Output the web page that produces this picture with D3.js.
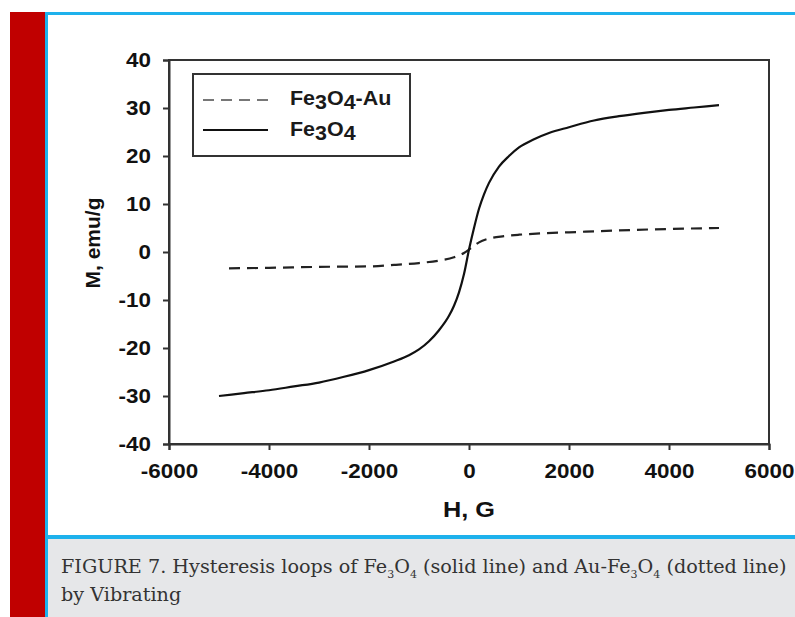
<!DOCTYPE html>
<html>
<head>
<meta charset="utf-8">
<script src="https://cdn.jsdelivr.net/npm/d3@7"></script>
<style>
  body { margin: 0; background: #fff; }
  svg { display: block; }
  .stretch { transform-box: fill-box; transform-origin: 50% 50%; transform: scaleX(1.15); }
  .stretchl { transform-box: fill-box; transform-origin: 0% 50%; transform: scaleX(1.1); }
  .ytick text { transform-box: fill-box; transform-origin: 100% 50%; transform: scaleX(1.15); }
  .xtick text { transform-box: fill-box; transform-origin: 50% 50%; transform: scaleX(1.15); }
</style>
</head>
<body>
<svg width="795" height="617"></svg>
<script>
// Fe3O4 magnetisation (solid)
let fe3o4H = [-5000,-4500,-4000,-3500,-3000,-2500,-2000,-1500,-1200,-1000,-800,-600,-400,-300,-200,-100,0,100,200,300,400,600,800,1000,1300,1600,2000,2500,3000,3500,4000,4500,5000];
let fe3o4M = [-30.0,-29.4,-28.8,-28.0,-27.2,-26.0,-24.6,-22.8,-21.5,-20.3,-18.6,-16.3,-13.3,-11.2,-8.4,-4.6,0.5,5.0,9.0,12.0,14.4,17.8,20.0,21.8,23.5,24.8,26.0,27.4,28.3,29.0,29.6,30.1,30.6];
// Fe3O4-Au magnetisation (dashed)
let auH = [-4800,-4000,-3000,-2000,-1500,-1000,-600,-300,-100,0,100,200,400,700,1000,1500,2000,3000,4000,5000];
let auM = [-3.4,-3.3,-3.1,-3.0,-2.7,-2.3,-1.8,-1.1,-0.2,0.5,1.3,2.0,2.8,3.3,3.6,3.9,4.1,4.5,4.8,5.0];

let xTicks = [-6000,-4000,-2000,0,2000,4000,6000];
let yTicks = [-40,-30,-20,-10,0,10,20,30,40];

let svg = d3.select('svg');

// page decoration
svg.append('rect').attr('x',10).attr('y',12).attr('width',35).attr('height',605).attr('fill','#c00000');
svg.append('rect').attr('x',45).attr('y',12).attr('width',750).attr('height',3).attr('fill','#1eb1ec');
svg.append('rect').attr('x',45).attr('y',12).attr('width',3).attr('height',605).attr('fill','#1eb1ec');
svg.append('rect').attr('x',48).attr('y',535).attr('width',747).attr('height',4).attr('fill','#1eb1ec');
svg.append('rect').attr('x',48).attr('y',539).attr('width',747).attr('height',78).attr('fill','#e6e7e9');

let xScale = d3.scaleLinear().domain([-6000,6000]).range([169,769]);
let yScale = d3.scaleLinear().domain([-40,40]).range([444,60]);

// frame
svg.append('rect')
  .attr('x',xScale(-6000)).attr('y',yScale(40))
  .attr('width',xScale(6000)-xScale(-6000)).attr('height',yScale(-40)-yScale(40))
  .attr('fill','none').attr('stroke','#333').attr('stroke-width',2);

let xAxis = d3.axisBottom(xScale).tickValues(xTicks).tickSize(6).tickPadding(14);
let xg = svg.append('g').attr('class','xtick').attr('transform','translate(0,'+yScale(-40)+')').call(xAxis);
let yAxis = d3.axisLeft(yScale).tickValues(yTicks).tickSize(6).tickPadding(12);
let yg = svg.append('g').attr('class','ytick').attr('transform','translate('+xScale(-6000)+',0)').call(yAxis);

[xg,yg].forEach(g => {
  g.select('.domain').attr('stroke','#333').attr('stroke-width',2);
  g.selectAll('line').attr('stroke','#333').attr('stroke-width',2);
  g.selectAll('text').attr('fill','#111').style('font-family','Liberation Sans, Arial, sans-serif')
    .style('font-size','19.5px').style('font-weight','bold')
    .text(d => String(d));
});

// axis titles
svg.append('text').attr('class','stretch').attr('x',469).attr('y',517).attr('text-anchor','middle')
  .style('font-family','Liberation Sans, Arial, sans-serif').style('font-size','22px').style('font-weight','bold')
  .attr('fill','#111').text('H, G');
svg.append('text').attr('transform','translate(100,243) rotate(-90)').attr('text-anchor','middle')
  .style('font-family','Liberation Sans, Arial, sans-serif').style('font-size','21px').style('font-weight','bold')
  .attr('fill','#111').text('M, emu/g');

// curves
let line = d3.line().x(d => xScale(d[0])).y(d => yScale(d[1])).curve(d3.curveMonotoneX);
svg.append('path').datum(auH.map((h,i) => [h,auM[i]]))
  .attr('d',line).attr('fill','none').attr('stroke','#222').attr('stroke-width',2.2).attr('stroke-dasharray','11,7');
svg.append('path').datum(fe3o4H.map((h,i) => [h,fe3o4M[i]]))
  .attr('d',line).attr('fill','none').attr('stroke','#111').attr('stroke-width',2.2);

// legend
svg.append('rect').attr('x',193).attr('y',74).attr('width',217).attr('height',82)
  .attr('fill','#fff').attr('stroke','#333').attr('stroke-width',2);
svg.append('line').attr('x1',203).attr('x2',268).attr('y1',100).attr('y2',100)
  .attr('stroke','#777').attr('stroke-width',2).attr('stroke-dasharray','11,7');
svg.append('line').attr('x1',203).attr('x2',268).attr('y1',130).attr('y2',130)
  .attr('stroke','#111').attr('stroke-width',2);

function formula(x, y, parts) {
  let t = svg.append('text').attr('class','stretchl').attr('x',x).attr('y',y)
    .style('font-family','Liberation Sans, Arial, sans-serif').style('font-size','19.5px').style('font-weight','bold')
    .attr('fill','#1a1a1a');
  let shift = 0;
  parts.forEach(p => {
    let dy = (p.sub ? 4 : 0) - shift;
    shift = p.sub ? 4 : 0;
    t.append('tspan').attr('dy',dy).text(p.t);
  });
}
formula(290,105,[{t:'Fe'},{t:'3',sub:true},{t:'O'},{t:'4',sub:true},{t:'-Au'}]);
formula(290,136,[{t:'Fe'},{t:'3',sub:true},{t:'O'},{t:'4',sub:true}]);

// caption
let cap = svg.append('text').attr('x',61).attr('y',573)
  .style('font-family','DejaVu Serif, serif').style('font-size','19.2px').attr('fill','#333');
let capParts = [['FIGURE 7. Hysteresis loops of Fe',0],['3',1],['O',0],['4',1],[' (solid line) and Au-Fe',0],['3',1],['O',0],['4',1],[' (dotted line)',0]];
let prev = 0;
capParts.forEach(p => {
  let s = cap.append('tspan').attr('dy',(p[1]?5:0)-prev).text(p[0]);
  if (p[1]) s.style('font-size','11px');
  prev = p[1]?5:0;
});
svg.append('text').attr('x',61).attr('y',601)
  .style('font-family','DejaVu Serif, serif').style('font-size','19.2px').attr('fill','#333').text('by Vibrating');
</script>
</body>
</html>
